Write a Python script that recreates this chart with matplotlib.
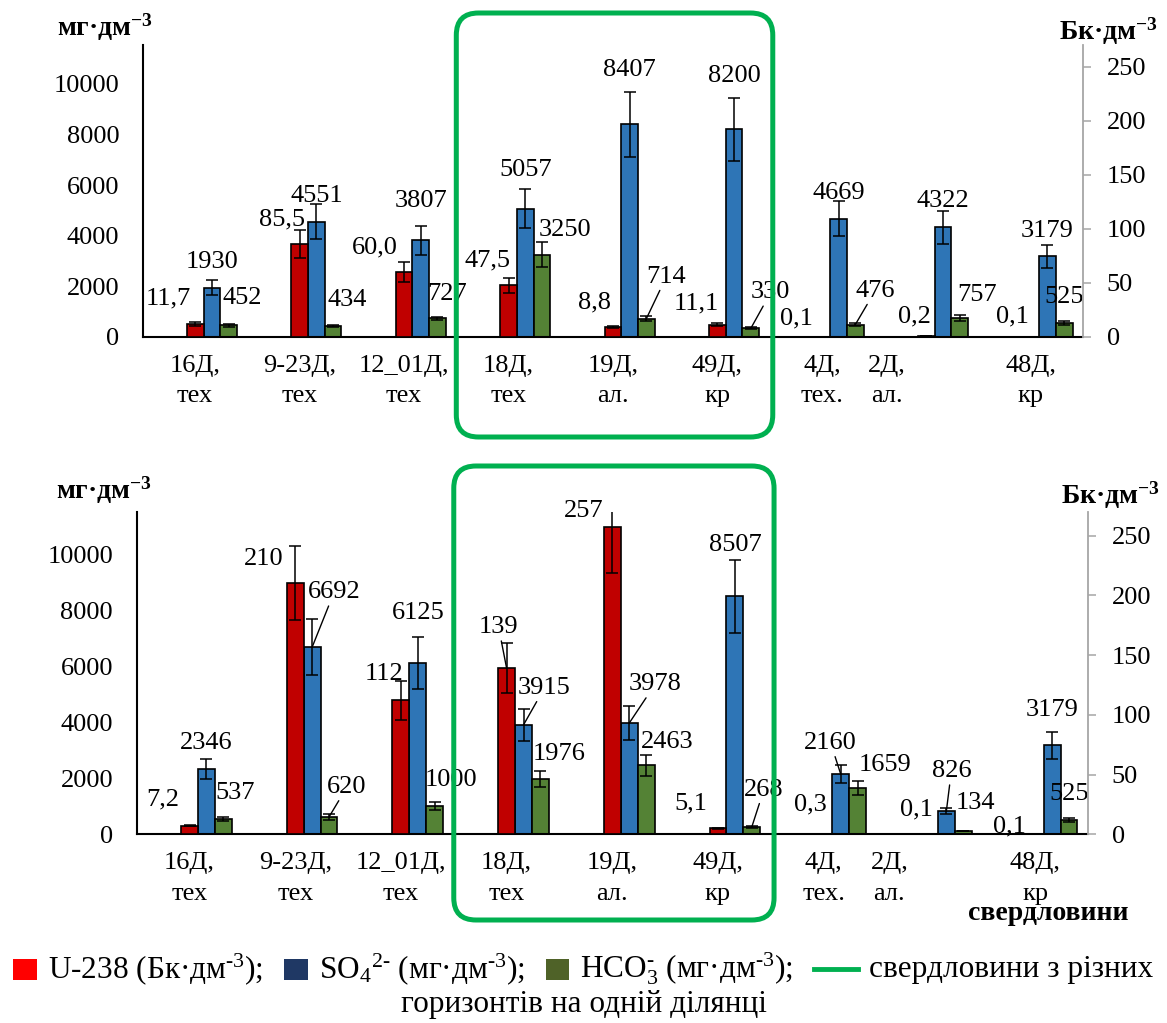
import numpy as np
import matplotlib.pyplot as plt
from matplotlib.patches import FancyBboxPatch, Rectangle
from matplotlib.lines import Line2D
from matplotlib.offsetbox import HPacker, VPacker, TextArea, DrawingArea, AnnotationBbox

plt.rcParams['font.family'] = ['Liberation Serif', 'DejaVu Serif']
plt.rcParams['mathtext.fontset'] = 'custom'
plt.rcParams['mathtext.rm'] = 'Liberation Serif'
plt.rcParams['mathtext.it'] = 'Liberation Serif:italic'
plt.rcParams['mathtext.bf'] = 'Liberation Serif:bold'

# wells (x categories)
wells = ['16Д,\nтех', '9-23Д,\nтех', '12_01Д,\nтех', '18Д,\nтех', '19Д,\nал.',
         '49Д,\nкр', '4Д,\nтех.', '2Д,\nал.', '48Д,\nкр']

# upper chart
u_top = [11.7, 85.5, 60.0, 47.5, 8.8, 11.1, 0.1, 0.2, 0.1]
u_top_err = [1.5, 13, 9, 7, 1.0, 1.5, 0, 0, 0]
so4_top = [1930, 4551, 3807, 5057, 8407, 8200, 4669, 4322, 3179]
so4_top_err = [300, 690, 575, 770, 1290, 1230, 680, 640, 450]
hco3_top = [452, 434, 727, 3250, 714, 330, 476, 757, 525]
hco3_top_err = [50, 40, 60, 490, 110, 40, 60, 120, 80]

# lower chart
u_bot = [7.2, 210, 112, 139, 257, 5.1, 0.3, 0.1, 0.1]
u_bot_err = [0.5, 31, 16.4, 20.7, 38.7, 0.5, 0, 0, 0]
so4_bot = [2346, 6692, 6125, 3915, 3978, 8507, 2160, 826, 3179]
so4_bot_err = [360, 1000, 930, 580, 600, 1290, 330, 110, 475]
hco3_bot = [537, 620, 1000, 1976, 2463, 268, 1659, 134, 525]
hco3_bot_err = [70, 100, 140, 300, 375, 40, 255, 0, 70]

RED = '#C00000'
BLUE = '#2E75B6'
GREEN = '#548235'
FRAME = '#00B050'
FS = 19

# label offsets in pixels (dx, dy downwards, leader line)
offs_top = {
    'u': [(-27, -26, 0), (-18, -25, 0), (-29, -24, 0), (-21, -25, 0), (-18, -25, 0),
          (-21, -21, 0), (-25, -18, 0), (-12, -20, 0), (-18, -20, 0)],
    's': [(0, -26, 0), (0, -26, 0), (0, -39, 0), (0, -39, 0), (0, -54, 0),
          (0, -53, 0), (0, -26, 0), (0, -26, 0), (0, -25, 0)],
    'h': [(14, -27, 0), (14, -26, 0), (10, -24, 0), (23, -25, 0), (20, -42, 1),
          (20, -36, 1), (20, -34, 1), (17, -23, 0), (0, -26, 0)],
}
offs_bot = {
    'u': [(-27, -26, 0), (-32, -24, 0), (-17, -26, 0), (-8, -41, 1), (-29, -16, 0),
          (-27, -25, 0), (-13, -29, 0), (-13, -25, 0), (-26, -8, 0)],
    's': [(0, -26, 0), (22, -55, 1), (0, -50, 0), (21, -37, 1), (26, -39, 1),
          (0, -51, 0), (-10, -31, 1), (5, -40, 1), (0, -35, 0)],
    'h': [(12, -26, 0), (18, -30, 1), (16, -26, 0), (19, -25, 0), (21, -23, 0),
          (12, -37, 1), (27, -23, 0), (12, -28, 0), (0, -26, 0)],
}

fig = plt.figure(figsize=(11.67, 10.23), dpi=100)


def fmt_u(v, always_dec):
    if always_dec or v < 10:
        return f'{v:.1f}'.replace('.', ',')
    return f'{v:.0f}'


def labels(ax, xs, vals, texts, offs):
    for xi, v, t, (dx, dy, lead) in zip(xs, vals, texts, offs):
        kw = {}
        if lead:
            kw['arrowprops'] = dict(arrowstyle='-', color='black', lw=1.0,
                                    shrinkA=0, shrinkB=0)
        ax.annotate(t, xy=(xi, v), xytext=(dx, -dy), textcoords='offset pixels',
                    ha='center', va='center', fontsize=FS, zorder=5, **kw)


def panel(rect, u, u_err, so4, so4_err, hco3, hco3_err, u_dec, offs):
    ax = fig.add_axes(rect)
    ax2 = ax.twinx()
    x = np.arange(len(wells))
    w = 0.16
    ebar = dict(fmt='none', ecolor='black', elinewidth=1.1, capsize=4.3,
                capthick=1.1, zorder=4)

    ax.bar(x + w, so4, w, color=BLUE, edgecolor='black', lw=1.2, zorder=2)
    ax.errorbar(x + w, so4, yerr=so4_err, **ebar)
    ax.bar(x + 2 * w, hco3, w, color=GREEN, edgecolor='black', lw=1.2, zorder=2)
    ax.errorbar(x + 2 * w, hco3, yerr=hco3_err, **ebar)
    ax2.bar(x, u, w, color=RED, edgecolor='black', lw=1.2, zorder=2)
    ax2.errorbar(x, u, yerr=u_err, **ebar)

    labels(ax, x + w, so4, [str(v) for v in so4], offs['s'])
    labels(ax, x + 2 * w, hco3, [str(v) for v in hco3], offs['h'])
    labels(ax2, x, u, [fmt_u(v, u_dec) for v in u], offs['u'])

    ax.set_xlim(-0.5, len(wells) - 0.5)
    ax.set_ylim(0, 11540)
    ax2.set_ylim(0, 270)
    ax.set_yticks(range(0, 10001, 2000))
    ax2.set_yticks(range(0, 251, 50))

    shift = np.zeros(len(wells))
    shift[7] = -0.38
    ax.set_xticks(x + shift)
    ax.set_xticklabels(wells, fontsize=FS, linespacing=1.5)
    ax.tick_params(axis='x', length=0, pad=13)
    ax.tick_params(axis='y', length=0, pad=17, labelsize=FS)
    ax2.tick_params(axis='y', length=6, width=1.1, color='#A6A6A6', pad=11,
                    labelsize=FS)

    for s in ['top', 'right']:
        ax.spines[s].set_visible(False)
    for s in ['top', 'left', 'bottom']:
        ax2.spines[s].set_visible(False)
    ax.spines['left'].set_linewidth(1.5)
    ax.spines['bottom'].set_linewidth(1.5)
    ax2.spines['right'].set_color('#A6A6A6')
    ax2.spines['right'].set_linewidth(1.3)
    return ax


ax_top = panel([0.1225, 0.6709, 0.8055, 0.2851], u_top, u_top_err, so4_top,
               so4_top_err, hco3_top, hco3_top_err, True, offs_top)
ax_bot = panel([0.1171, 0.1845, 0.8152, 0.3153], u_bot, u_bot_err, so4_bot,
               so4_bot_err, hco3_bot, hco3_bot_err, False, offs_bot)

# green frames around wells of one site
W, H = 1167.0, 1023.0
for ax, y0, y1 in [(ax_top, 13, 437), (ax_bot, 466, 920)]:
    xl = ax.transData.transform((2.5, 0))[0] / W
    xr = ax.transData.transform((5.53, 0))[0] / W
    fb = FancyBboxPatch((xl, 1 - y1 / H), xr - xl, (y1 - y0) / H,
                        boxstyle='round,pad=0,rounding_size=0.019',
                        mutation_aspect=W / H, transform=fig.transFigure,
                        fill=False, ec=FRAME, lw=3.6, zorder=10)
    fig.add_artist(fb)

# axis units
for xp, yp, t in [(105, 27, 'мг·дм$^{\\mathbf{-3}}$'), (1108, 31, 'Бк·дм$^{\\mathbf{-3}}$'),
                  (104, 490, 'мг·дм$^{\\mathbf{-3}}$'), (1110, 495, 'Бк·дм$^{\\mathbf{-3}}$'),
                  (1048, 913, 'свердловини')]:
    fig.text(xp / W, 1 - yp / H, t, ha='center', va='center', fontsize=20,
             fontweight='bold')

# legend
tp = dict(fontsize=22.5)


def swatch(color):
    da = DrawingArea(17, 15)
    da.add_artist(Rectangle((0, 0), 17, 15, fc=color, ec='none'))
    return da


line_sw = DrawingArea(32, 15)
line_sw.add_artist(Line2D([0, 32], [7.5, 7.5], color=FRAME, lw=3.5))

items = [(swatch('#FF0000'), 'U-238 (Бк·дм$^{\\text{-}3}$);'),
         (swatch('#1F3864'), 'SO$_4$$^{2\\text{-}}$ (мг·дм$^{\\text{-}3}$);'),
         (swatch('#4F6228'), 'HCO$_3^{\\text{-}}$ (мг·дм$^{\\text{-}3}$);'),
         (line_sw, 'свердловини з різних')]
row = HPacker(children=[HPacker(children=[s, TextArea(t, textprops=tp)], sep=8,
                                align='center') for s, t in items],
              sep=15, align='center', pad=0)
block = VPacker(children=[row, TextArea('горизонтів на одній ділянці', textprops=tp)],
                sep=2, align='center', pad=0)
ab = AnnotationBbox(block, (0.5, 1 - 985 / H), xycoords='figure fraction',
                    frameon=False, box_alignment=(0.5, 0.5))
fig.add_artist(ab)

fig.savefig('out.png', dpi=100)
